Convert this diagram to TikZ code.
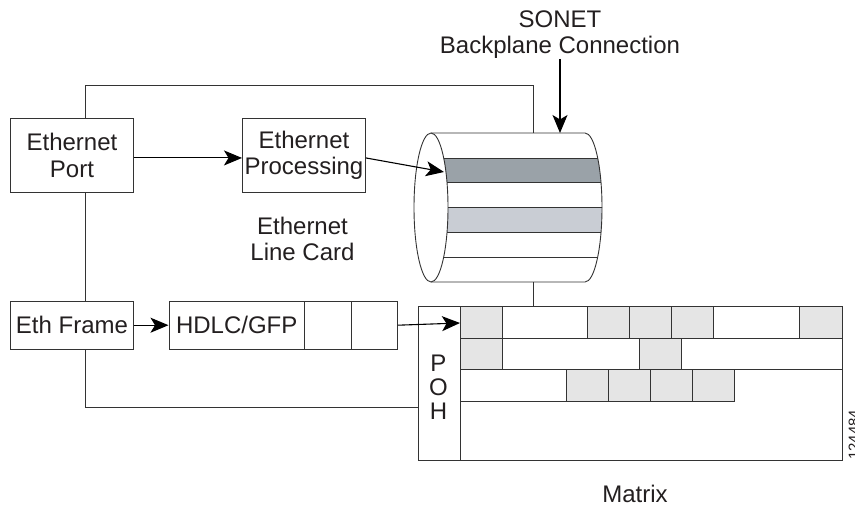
\documentclass[tikz,border=0pt]{standalone}
\usepackage{fontspec}
\setmainfont{Liberation Sans}
\usetikzlibrary{arrows.meta,calc}
\definecolor{linec}{HTML}{333333}
\definecolor{banddark}{HTML}{9AA2A8}
\definecolor{bandlight}{HTML}{C9CDD4}
\definecolor{cellc}{HTML}{E5E5E5}
\definecolor{textc}{HTML}{231F20}
\tikzset{
  every node/.style={font=\fontsize{24}{26.5}\selectfont, text=textc},
  wire/.style={draw=linec, line width=0.9pt},
  arrowline/.style={draw=black, line width=1.1pt, -{Stealth[length=18pt,width=15pt,inset=4.5pt]}},
  boxed/.style={draw=linec, line width=0.9pt, inner sep=0pt, align=center, anchor=north west, minimum width=#1},
  cell/.style={draw=linec, line width=0.9pt, fill=cellc},
  label/.style={align=center, inner sep=0pt}
}
\begin{document}
\begin{tikzpicture}[x=1pt,y=-1pt]
\useasboundingbox (0,0) rectangle (855,508);
% cylinder
\begin{scope}
\clip (431,133) .. controls (440.4,133) and (448,166.4) .. (448,207.5) .. controls (448,248.6) and (440.4,282) .. (431,282)
  -- (585,282) .. controls (594.4,282) and (602,248.6) .. (602,207.5) .. controls (602,166.4) and (594.4,133) .. (585,133) -- cycle;
\fill[banddark] (410,158) rectangle (610,182.5);
\fill[bandlight] (410,207.5) rectangle (610,232);
\draw[wire] (410,158) -- (610,158) (410,182.5) -- (610,182.5) (410,207.5) -- (610,207.5) (410,232) -- (610,232) (410,257) -- (610,257);
\end{scope}
\draw[wire] (431,207.5) ellipse [x radius=17, y radius=74.5];
\draw[wire] (431,133) -- (585,133) .. controls (594.4,133) and (602,166.4) .. (602,207.5) .. controls (602,248.6) and (594.4,282) .. (585,282) -- (431,282);
\coordinate (cyltop) at (533,133);
\coordinate (cylarrow) at (560,133);
\coordinate (cylbottom) at (533,282);
\coordinate (cylband) at (444,172);
% boxes
\node[boxed=123pt, minimum height=74pt] (port) at (10,118) {Ethernet\\Port};
\node[boxed=123pt, minimum height=74pt] (proc) at (242,118) {Ethernet\\Processing};
\node[boxed=123pt, minimum height=47.5pt] (frame) at (10,301) {Eth Frame};
\node[boxed=135.5pt, minimum height=47.5pt] (hdlc) at (168.5,301) {HDLC/GFP};
\node[boxed=46.5pt, minimum height=47.5pt] (cella) at (304,301) {};
\node[boxed=46.5pt, minimum height=47.5pt] (cellb) at (350.5,301) {};
% matrix
\node[boxed=424pt, minimum height=154pt] (matrix) at (418,306) {};
\node[boxed=42pt, minimum height=154pt] (poh) at (418,306) {};
\node[label] (p) at (438.5,363) {P};
\node[label] (o) at (438.5,387) {O};
\node[label] (h) at (438.5,411) {H};
\draw[cell] (460,306) rectangle (502,338);
\draw[cell] (587,306) rectangle (629,338);
\draw[cell] (629,306) rectangle (671.5,338);
\draw[cell] (671.5,306) rectangle (713,338);
\draw[cell] (799,306) rectangle (842,338);
\draw[wire] (460,338) -- (842,338);
\draw[cell] (460,338) rectangle (502,369.5);
\draw[cell] (639,338) rectangle (681,369.5);
\draw[wire] (460,369.5) -- (842,369.5);
\draw[cell] (566,369.5) rectangle (608,401);
\draw[cell] (608,369.5) rectangle (650,401);
\draw[cell] (650,369.5) rectangle (692,401);
\draw[cell] (692,369.5) rectangle (734,401);
\draw[wire] (460,401) -- (566,401);
\coordinate (matrixcell) at (460,323);
% connectors
\draw[wire] ([xshift=13.5pt]port.north) |- (cyltop |- 0,85) -- (cyltop);
\draw[wire] ([xshift=13.5pt]port.south) -- ([xshift=13.5pt]frame.north);
\draw[wire] ([xshift=13.5pt]frame.south) |- (poh.west |- 0,407);
\draw[wire] (cylbottom) -- (cylbottom |- matrix.north);
\draw[arrowline] ([yshift=-2.5pt]port.east) -- ([yshift=-2.5pt]proc.west);
\draw[arrowline] ([yshift=-2.5pt]proc.east) -- (cylband);
\draw[arrowline] (frame.east) -- (hdlc.west);
\draw[arrowline] (cellb.east) -- (matrixcell);
\coordinate (sonetstart) at (560,59);
\draw[arrowline] (sonetstart) -- (cylarrow);
% labels
\node[label] (sonet) at (560,34.5) {SONET\\Backplane Connection};
\node[label] (linecard) at (302.5,239) {Ethernet\\Line Card};
\node[label] (mx) at (635,494) {Matrix};
\node[rotate=90, anchor=base west, inner sep=0pt, font=\fontsize{15}{17}\selectfont] (num) at (859,460) {124484};
\end{tikzpicture}
\end{document}
